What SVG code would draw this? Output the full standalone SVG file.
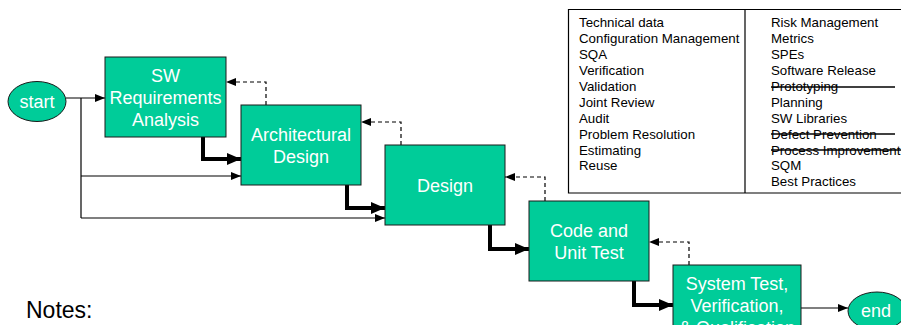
<svg xmlns="http://www.w3.org/2000/svg" width="901" height="325" viewBox="0 0 901 325">
  <style>
    .box { fill: #00CC99; stroke: #1a1a1a; stroke-width: 1; }
    .lbl { font-family: "Liberation Sans", Arial, sans-serif; font-size: 18px; fill: #ffffff; text-anchor: middle; }
    .thin { fill: none; stroke: #000; stroke-width: 1.2; }
    .thick { fill: none; stroke: #000; stroke-width: 4; }
    .dash { fill: none; stroke: #000; stroke-width: 1.2; stroke-dasharray: 4 3; }
    .tbl { font-family: "Liberation Sans", Arial, sans-serif; font-size: 13.3px; fill: #000; }
    .strike { stroke: #000; stroke-width: 1.5; }
  </style>
  <defs>
    <marker id="ah" markerUnits="userSpaceOnUse" markerWidth="10" markerHeight="8" refX="10" refY="4" orient="auto">
      <path d="M0,0 L10,4 L0,8 Z" fill="#000"/>
    </marker>
    <marker id="ahBig" markerUnits="userSpaceOnUse" markerWidth="14" markerHeight="12" refX="14" refY="6" orient="auto">
      <path d="M0,0 L14,6 L0,12 Z" fill="#000"/>
    </marker>
  </defs>

  <rect width="901" height="325" fill="#ffffff"/>

  <!-- activity table -->
  <g id="table">
    <path d="M901,9.5 H568.5 V193 H901 M745,9.5 V193" fill="none" stroke="#000" stroke-width="1.2"/>
    <text class="tbl" x="579">
      <tspan x="579" y="27">Technical data</tspan>
      <tspan x="579" y="43">Configuration Management</tspan>
      <tspan x="579" y="59">SQA</tspan>
      <tspan x="579" y="75">Verification</tspan>
      <tspan x="579" y="91">Validation</tspan>
      <tspan x="579" y="106.5">Joint Review</tspan>
      <tspan x="579" y="122.5">Audit</tspan>
      <tspan x="579" y="138.5">Problem Resolution</tspan>
      <tspan x="579" y="154.5">Estimating</tspan>
      <tspan x="579" y="170">Reuse</tspan>
    </text>
    <text class="tbl" x="771">
      <tspan x="771" y="27">Risk Management</tspan>
      <tspan x="771" y="43">Metrics</tspan>
      <tspan x="771" y="59">SPEs</tspan>
      <tspan x="771" y="75">Software Release</tspan>
      <tspan x="771" y="91">Prototyping</tspan>
      <tspan x="771" y="106.5">Planning</tspan>
      <tspan x="771" y="122.5">SW Libraries</tspan>
      <tspan x="771" y="138.5">Defect Prevention</tspan>
      <tspan x="771" y="154.5">Process Improvement</tspan>
      <tspan x="771" y="170">SQM</tspan>
      <tspan x="771" y="186">Best Practices</tspan>
    </text>
    <line class="strike" x1="771" y1="87" x2="895" y2="87"/>
    <line class="strike" x1="771" y1="134" x2="895" y2="134"/>
    <line class="strike" x1="771" y1="150" x2="901" y2="150"/>
  </g>

  <!-- connectors -->
  <g id="connectors">
    <path class="thin" d="M66,98 H105" marker-end="url(#ah)"/>
    <path class="thin" d="M81,98 V218"/>
    <path class="thin" d="M81,176 H241" marker-end="url(#ah)"/>
    <path class="thin" d="M81,218 H385" marker-end="url(#ah)"/>
    <path class="thin" d="M801,308 H848" marker-end="url(#ah)"/>

    <path class="thick" d="M203,137 V159 H241" marker-end="url(#ahBig)"/>
    <path class="thick" d="M347,185 V208 H385" marker-end="url(#ahBig)"/>
    <path class="thick" d="M490,225 V249 H529" marker-end="url(#ahBig)"/>
    <path class="thick" d="M634,281 V305 H673" marker-end="url(#ahBig)"/>

    <path class="dash" d="M266,105 V82 H226" marker-end="url(#ah)"/>
    <path class="dash" d="M401,145 V122 H361" marker-end="url(#ah)"/>
    <path class="dash" d="M545,201 V177 H505" marker-end="url(#ah)"/>
    <path class="dash" d="M689,265 V242 H649" marker-end="url(#ah)"/>
  </g>

  <g id="start">
    <ellipse class="box" cx="37" cy="101.5" rx="29" ry="20"/>
    <text class="lbl" x="37" y="108">start</text>
  </g>

  <g id="sw-requirements">
    <rect class="box" x="105" y="57" width="121" height="80"/>
    <text class="lbl" x="165.5" y="82">SW</text>
    <text class="lbl" x="165.5" y="104">Requirements</text>
    <text class="lbl" x="165.5" y="126">Analysis</text>
  </g>

  <g id="architectural-design">
    <rect class="box" x="241" y="105" width="120" height="80"/>
    <text class="lbl" x="301" y="141">Architectural</text>
    <text class="lbl" x="301" y="163">Design</text>
  </g>

  <g id="design">
    <rect class="box" x="385" y="145" width="120" height="80"/>
    <text class="lbl" x="445" y="192">Design</text>
  </g>

  <g id="code-unit-test">
    <rect class="box" x="529" y="201" width="120" height="80"/>
    <text class="lbl" x="589" y="237">Code and</text>
    <text class="lbl" x="589" y="259">Unit Test</text>
  </g>

  <g id="system-test">
    <rect class="box" x="673" y="265" width="128" height="80"/>
    <text class="lbl" x="737" y="290">System Test,</text>
    <text class="lbl" x="737" y="312">Verification,</text>
    <text class="lbl" x="737" y="334">&amp; Qualification</text>
  </g>

  <g id="end">
    <ellipse class="box" cx="877" cy="311" rx="29" ry="19"/>
    <text class="lbl" x="876" y="317">end</text>
  </g>

  <text x="26" y="318" font-family="'Liberation Sans', Arial, sans-serif" font-size="23" fill="#000">Notes:</text>
</svg>
